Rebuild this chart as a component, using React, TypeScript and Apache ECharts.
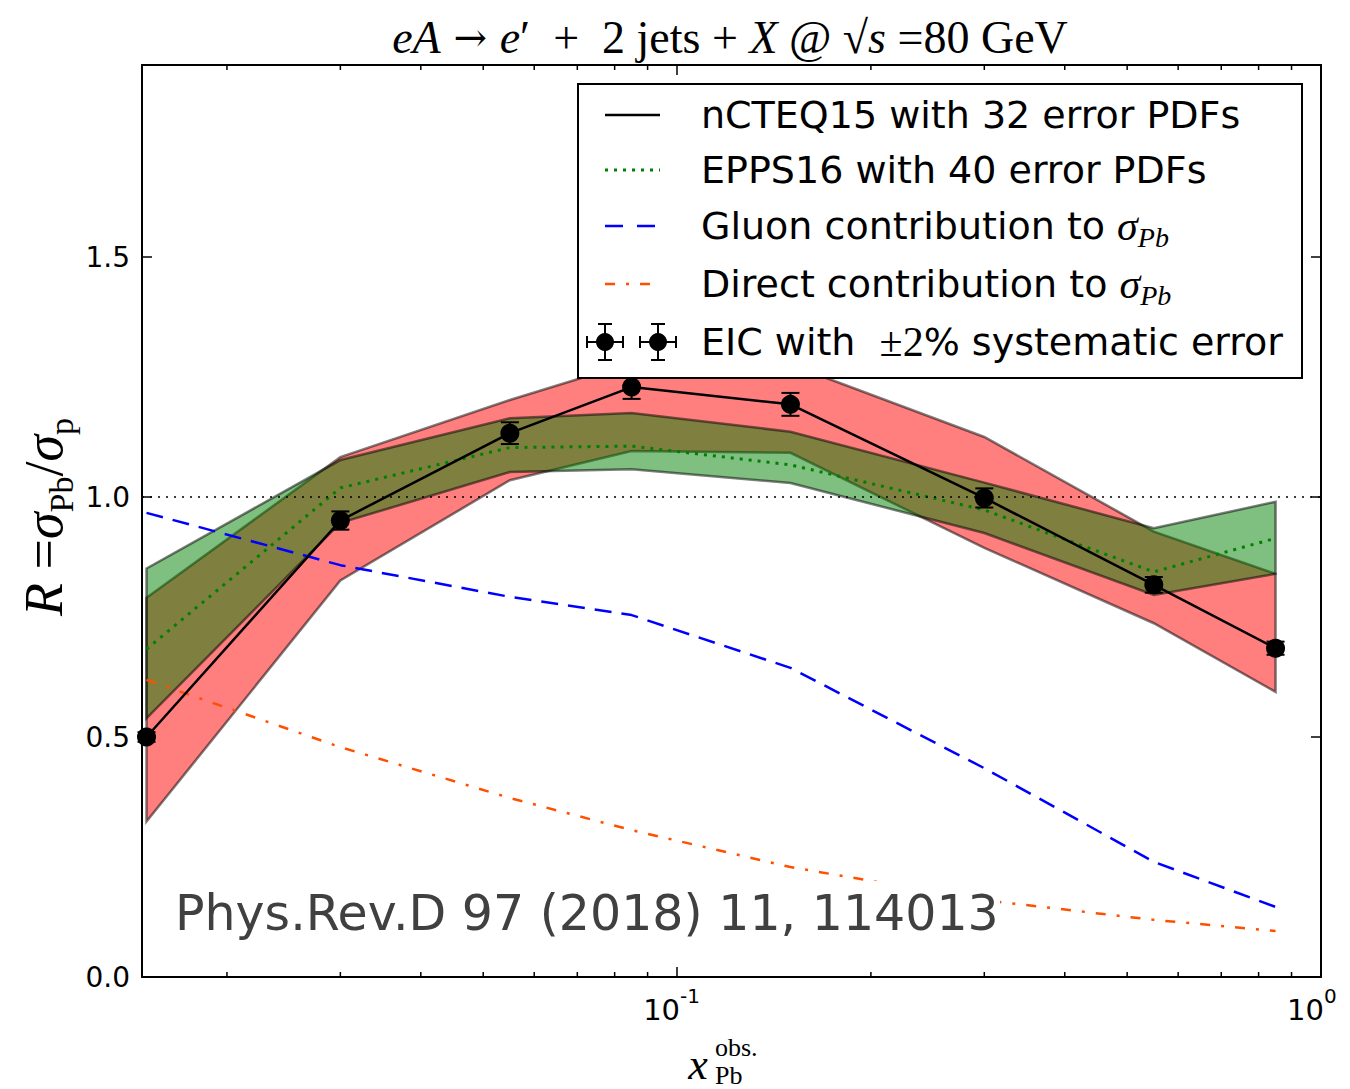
import React, { useEffect, useRef } from 'react';
import * as echarts from 'echarts';

// ---------------- data ----------------
const xVals = [0.015, 0.03, 0.055, 0.085, 0.15, 0.3, 0.55, 0.85];
const ncteqCentral = [0.5, 0.951, 1.133, 1.229, 1.193, 0.998, 0.817, 0.685];
const ncteqUpper = [0.79, 1.083, 1.202, 1.28, 1.276, 1.125, 0.928, 0.84];
const ncteqLower = [0.324, 0.826, 1.035, 1.096, 1.092, 0.894, 0.737, 0.594];
const eppsCentral = [0.683, 1.019, 1.103, 1.106, 1.067, 0.973, 0.844, 0.914];
const eppsUpper = [0.851, 1.077, 1.164, 1.175, 1.136, 1.03, 0.935, 0.99];
const eppsLower = [0.539, 0.946, 1.052, 1.058, 1.029, 0.925, 0.796, 0.84];
const gluonContribution = [0.967, 0.858, 0.792, 0.754, 0.644, 0.435, 0.24, 0.146];
const directContribution = [0.619, 0.479, 0.373, 0.306, 0.229, 0.16, 0.119, 0.096];
const sysErrorFraction = 0.02;

const xMajorTicks = [0.1, 1];
const xMajorExponents = ['-1', '0'];
const xMinorTicks = [0.02, 0.03, 0.04, 0.05, 0.06, 0.07, 0.08, 0.09, 0.2, 0.3, 0.4, 0.5, 0.6, 0.7, 0.8, 0.9];
const yTickLabels = ['0.0', '0.5', '1.0', '1.5'];
const legendLabels = [
  'nCTEQ15 with 32 error PDFs',
  'EPPS16 with 40 error PDFs',
  'Gluon contribution to ',
  'Direct contribution to ',
  'EIC with ',
];

const X_MIN = 0.01476;
const X_MAX = 1;
const Y_MIN = 0;
const Y_MAX = 1.9;

const SERIF = '"Liberation Serif", "DejaVu Serif", serif';
const SANS = '"DejaVu Sans", sans-serif';

function bandSeries(name: string, upper: number[], lower: number[], fill: string, z: number) {
  return {
    type: 'custom',
    name,
    z,
    silent: true,
    clip: false,
    data: [[xVals[0], lower[0]]],
    renderItem: (params: any, api: any) => {
      const pts: number[][] = [];
      for (let i = 0; i < xVals.length; i++) pts.push(api.coord([xVals[i], upper[i]]));
      for (let i = xVals.length - 1; i >= 0; i--) pts.push(api.coord([xVals[i], lower[i]]));
      return {
        type: 'polygon',
        shape: { points: pts },
        style: { fill, stroke: 'rgba(0,0,0,0.5)', lineWidth: 2.5, lineJoin: 'miter' },
      };
    },
  };
}

export default function App() {
  const ref = useRef<HTMLDivElement>(null);
  useEffect(() => {
    if (!ref.current) return;
    const chart = echarts.init(ref.current, null, { renderer: 'svg' });

    const axisLineStyle = { color: '#000', width: 2 };
    const tickStyle = { color: '#000', width: 1.5 };

    const legendX = 578, legendY = 84, legendW = 724, legendH = 294;
    const rows = [115, 170, 226, 284, 342];
    const hx1 = 605, hx2 = 660, textX = 701;
    const legendFont = 38;

    const legendTextStyle = (i: number, extra?: any) => ({
      type: 'text',
      z: 101,
      x: textX,
      y: rows[i],
      style: Object.assign(
        {
          text: legendLabels[i],
          fill: '#000',
          font: `${legendFont}px ${SANS}`,
          verticalAlign: 'middle',
          align: 'left',
        },
        extra || {}
      ),
    });

    const sigmaPbRich = {
      a: { fontFamily: SANS, fontSize: legendFont, lineHeight: 50, color: '#000' },
      s: { fontFamily: SERIF, fontStyle: 'italic', fontSize: 42, lineHeight: 50, color: '#000' },
      b: { fontFamily: SERIF, fontStyle: 'italic', fontSize: 28, lineHeight: 22, verticalAlign: 'bottom', color: '#000' },
    };

    const mx1 = 605, mx2 = 658, my = rows[4];
    const markerGroup = (cx: number) => ({
      type: 'group',
      z: 101,
      children: [
        { type: 'line', z: 101, shape: { x1: cx - 18, y1: my, x2: cx + 18, y2: my }, style: { stroke: '#000', lineWidth: 2 } },
        { type: 'line', z: 101, shape: { x1: cx, y1: my - 18, x2: cx, y2: my + 18 }, style: { stroke: '#000', lineWidth: 2 } },
        { type: 'line', z: 101, shape: { x1: cx - 18, y1: my - 6, x2: cx - 18, y2: my + 6 }, style: { stroke: '#000', lineWidth: 2 } },
        { type: 'line', z: 101, shape: { x1: cx + 18, y1: my - 6, x2: cx + 18, y2: my + 6 }, style: { stroke: '#000', lineWidth: 2 } },
        { type: 'line', z: 101, shape: { x1: cx - 7, y1: my - 18, x2: cx + 7, y2: my - 18 }, style: { stroke: '#000', lineWidth: 2 } },
        { type: 'line', z: 101, shape: { x1: cx - 7, y1: my + 18, x2: cx + 7, y2: my + 18 }, style: { stroke: '#000', lineWidth: 2 } },
        { type: 'circle', z: 102, shape: { cx, cy: my, r: 9 }, style: { fill: '#000' } },
      ],
    });

    const option: any = {
      animation: false,
      backgroundColor: '#fff',
      grid: { left: 142, right: 29, top: 65, bottom: 112, containLabel: false },
      xAxis: [
        {
          type: 'log',
          logBase: 10,
          min: X_MIN,
          max: X_MAX,
          position: 'bottom',
          axisLine: { show: true, onZero: false, lineStyle: axisLineStyle },
          axisTick: { show: true, inside: true, length: 10, lineStyle: tickStyle },
          axisLabel: { show: false },
          splitLine: { show: false },
          minorTick: { show: false },
        },
        {
          type: 'log',
          logBase: 10,
          min: X_MIN,
          max: X_MAX,
          position: 'top',
          axisLine: { show: true, onZero: false, lineStyle: axisLineStyle },
          axisTick: { show: true, inside: true, length: 10, lineStyle: tickStyle },
          axisLabel: { show: false },
          splitLine: { show: false },
        },
      ],
      yAxis: [
        {
          type: 'value',
          min: Y_MIN,
          max: Y_MAX,
          interval: 0.5,
          position: 'left',
          axisLine: { show: true, onZero: false, lineStyle: axisLineStyle },
          axisTick: { show: true, inside: true, length: 10, lineStyle: tickStyle },
          axisLabel: {
            margin: 12,
            color: '#000',
            fontFamily: SANS,
            fontSize: 28,
            showMaxLabel: false,
            formatter: (v: number) => {
              const k = Math.round(v * 2);
              if (Math.abs(v * 2 - k) < 1e-6 && k >= 0 && k < yTickLabels.length) return yTickLabels[k];
              return '';
            },
          },
          splitLine: { show: false },
        },
        {
          type: 'value',
          min: Y_MIN,
          max: Y_MAX,
          interval: 0.5,
          position: 'right',
          axisLine: { show: true, onZero: false, lineStyle: axisLineStyle },
          axisTick: { show: true, inside: true, length: 10, lineStyle: tickStyle },
          axisLabel: { show: false },
          splitLine: { show: false },
        },
      ],
      series: [
        bandSeries('nCTEQ15 band', ncteqUpper, ncteqLower, 'rgba(255,0,0,0.5)', 1),
        bandSeries('EPPS16 band', eppsUpper, eppsLower, 'rgba(0,128,0,0.5)', 2),
        {
          type: 'line',
          name: 'EPPS16 with 40 error PDFs',
          z: 3,
          data: xVals.map((x, i) => [x, eppsCentral[i]]),
          symbol: 'none',
          silent: true,
          lineStyle: { color: '#008000', width: 3, type: [3, 6], cap: 'butt' },
          markLine: {
            silent: true,
            symbol: ['none', 'none'],
            label: { show: false },
            data: [{ yAxis: 1 }],
            lineStyle: { color: '#000', width: 1.5, type: [2, 6] },
            z: 6,
          },
        },
        {
          type: 'line',
          name: 'Gluon contribution',
          z: 3,
          data: xVals.map((x, i) => [x, gluonContribution[i]]),
          symbol: 'none',
          silent: true,
          lineStyle: { color: '#0000ff', width: 2.5, type: [17, 10], cap: 'butt' },
        },
        {
          type: 'line',
          name: 'Direct contribution',
          z: 3,
          data: xVals.map((x, i) => [x, directContribution[i]]),
          symbol: 'none',
          silent: true,
          lineStyle: { color: '#ff5000', width: 2.5, type: [10, 11, 3, 11], cap: 'butt' },
        },
        {
          type: 'line',
          name: 'nCTEQ15 with 32 error PDFs',
          z: 4,
          data: xVals.map((x, i) => [x, ncteqCentral[i]]),
          symbol: 'circle',
          symbolSize: 19,
          silent: true,
          itemStyle: { color: '#000' },
          lineStyle: { color: '#000', width: 2.5 },
        },
        {
          type: 'custom',
          name: 'EIC errors',
          z: 5,
          silent: true,
          clip: false,
          data: xVals.map((x, i) => [x, ncteqCentral[i], ncteqCentral[i] * sysErrorFraction]),
          encode: { x: 0, y: 1 },
          renderItem: (params: any, api: any) => {
            const x = api.value(0), y = api.value(1), e = api.value(2);
            const t = api.coord([x, y + e]);
            const b = api.coord([x, y - e]);
            const cw = 9;
            const st = { stroke: '#000', lineWidth: 2 };
            return {
              type: 'group',
              children: [
                { type: 'line', shape: { x1: t[0], y1: t[1], x2: b[0], y2: b[1] }, style: st },
                { type: 'line', shape: { x1: t[0] - cw, y1: t[1], x2: t[0] + cw, y2: t[1] }, style: st },
                { type: 'line', shape: { x1: b[0] - cw, y1: b[1], x2: b[0] + cw, y2: b[1] }, style: st },
              ],
            };
          },
        },
        {
          type: 'custom',
          name: 'minor ticks',
          z: 7,
          silent: true,
          clip: false,
          data: xMinorTicks.map((v) => [v, Y_MIN]),
          renderItem: (params: any, api: any) => {
            const v = api.value(0);
            const b = api.coord([v, Y_MIN]);
            const t = api.coord([v, Y_MAX]);
            const st = { stroke: '#000', lineWidth: 1.5 };
            return {
              type: 'group',
              children: [
                { type: 'line', shape: { x1: b[0], y1: b[1], x2: b[0], y2: b[1] - 5 }, style: st },
                { type: 'line', shape: { x1: t[0], y1: t[1], x2: t[0], y2: t[1] + 5 }, style: st },
              ],
            };
          },
        },
        {
          type: 'custom',
          name: 'x tick labels',
          z: 7,
          silent: true,
          clip: false,
          data: xMajorTicks.map((v, i) => [v, Y_MIN, i]),
          renderItem: (params: any, api: any) => {
            const v = api.value(0);
            const idx = api.value(2);
            const p = api.coord([v, Y_MIN]);
            return {
              type: 'group',
              children: [
                {
                  type: 'text',
                  x: p[0] + 3,
                  y: p[1] + 33,
                  style: { text: '10', font: `29px ${SANS}`, fill: '#000', align: 'right', verticalAlign: 'middle' },
                },
                {
                  type: 'text',
                  x: p[0] + 3,
                  y: p[1] + 19,
                  style: { text: xMajorExponents[idx], font: `20px ${SANS}`, fill: '#000', align: 'left', verticalAlign: 'middle' },
                },
              ],
            };
          },
        },
      ],
      graphic: [
        // title
        {
          type: 'text',
          z: 100,
          x: 730,
          y: 37,
          style: {
            text: '{i|eA}{a| → }{i|e}{r|′  +  2 jets + }{i|X}{r| @ √}{i|s}{r| =80 GeV}',
            align: 'center',
            verticalAlign: 'middle',
            rich: {
              i: { fontFamily: SERIF, fontStyle: 'italic', fontSize: 46, color: '#000' },
              r: { fontFamily: SERIF, fontSize: 46, color: '#000' },
              a: { fontFamily: '"DejaVu Serif", serif', fontSize: 40, color: '#000' },
            },
          },
        },
        // y axis name
        {
          type: 'text',
          z: 100,
          x: 44,
          y: 517,
          rotation: Math.PI / 2,
          style: {
            text: '{i|R}{r| =}{i|σ}{sub|Pb}{r|/}{i|σ}{sub|p}',
            align: 'center',
            verticalAlign: 'middle',
            rich: {
              i: { fontFamily: SERIF, fontStyle: 'italic', fontSize: 54, lineHeight: 68, color: '#000' },
              r: { fontFamily: SERIF, fontSize: 54, lineHeight: 68, color: '#000' },
              sub: { fontFamily: SERIF, fontSize: 34, lineHeight: 30, verticalAlign: 'bottom', color: '#000' },
            },
          },
        },
        // x axis name
        {
          type: 'text',
          z: 100,
          x: 698,
          y: 1064,
          style: { text: 'x', font: `italic 44px ${SERIF}`, fill: '#000', align: 'center', verticalAlign: 'middle' },
        },
        {
          type: 'text',
          z: 100,
          x: 715,
          y: 1047,
          style: { text: 'obs.', font: `26px ${SERIF}`, fill: '#000', align: 'left', verticalAlign: 'middle' },
        },
        {
          type: 'text',
          z: 100,
          x: 715,
          y: 1075,
          style: { text: 'Pb', font: `26px ${SERIF}`, fill: '#000', align: 'left', verticalAlign: 'middle' },
        },
        // publication reference
        {
          type: 'rect',
          z: 90,
          shape: { x: 168, y: 881, width: 832, height: 62 },
          style: { fill: '#fff' },
        },
        {
          type: 'text',
          z: 91,
          x: 175,
          y: 913,
          style: {
            text: 'Phys.Rev.D 97 (2018) 11, 114013',
            font: `49px ${SANS}`,
            fill: '#404040',
            align: 'left',
            verticalAlign: 'middle',
          },
        },
        // legend
        {
          type: 'rect',
          z: 100,
          shape: { x: legendX, y: legendY, width: legendW, height: legendH },
          style: { fill: '#fff', stroke: '#000', lineWidth: 2 },
        },
        { type: 'line', z: 101, shape: { x1: hx1, y1: rows[0], x2: hx2, y2: rows[0] }, style: { stroke: '#000', lineWidth: 2.5 } },
        { type: 'line', z: 101, shape: { x1: hx1, y1: rows[1], x2: hx2, y2: rows[1] }, style: { stroke: '#008000', lineWidth: 3, lineDash: [3, 6] } },
        { type: 'line', z: 101, shape: { x1: hx1, y1: rows[2], x2: hx2, y2: rows[2] }, style: { stroke: '#0000ff', lineWidth: 2.5, lineDash: [18, 14] } },
        { type: 'line', z: 101, shape: { x1: hx1, y1: rows[3], x2: hx2, y2: rows[3] }, style: { stroke: '#ff5000', lineWidth: 2.5, lineDash: [10, 11, 3, 11] } },
        markerGroup(mx1),
        markerGroup(mx2),
        legendTextStyle(0),
        legendTextStyle(1),
        legendTextStyle(2, { text: `{a|${legendLabels[2]}}{s|σ}{b|Pb}`, rich: sigmaPbRich }),
        legendTextStyle(3, { text: `{a|${legendLabels[3]}}{s|σ}{b|Pb}`, rich: sigmaPbRich }),
        legendTextStyle(4, {
          text: `{a|${legendLabels[4]} }{m|±2}{a|% systematic error}`,
          rich: {
            a: { fontFamily: SANS, fontSize: legendFont, color: '#000' },
            m: { fontFamily: SERIF, fontSize: 42, color: '#000' },
          },
        }),
      ],
    };

    chart.setOption(option);
    return () => chart.dispose();
  }, []);

  return (
    <div
      ref={ref}
      style={{ position: 'absolute', left: 0, top: 0, width: 1350, height: 1089, background: '#fff' }}
    />
  );
}
